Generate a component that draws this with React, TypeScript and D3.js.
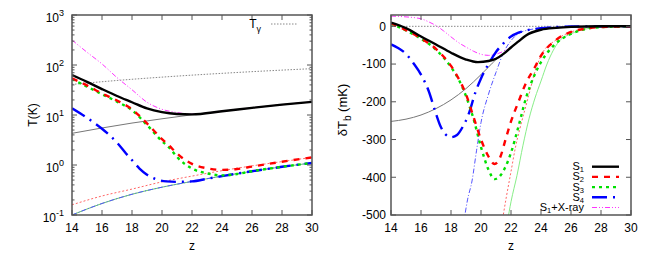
import * as d3 from "d3";

type Pt = [number, number];

const zTicks = [14, 16, 18, 20, 22, 24, 26, 28, 30];
const logTicks = [-1, 0, 1, 2, 3];
const dTbTicks = [-500, -400, -300, -200, -100, 0];

// left panel, T(K)
const tGamma: Pt[] = [[14, 40.9], [16, 46.3], [18, 51.8], [20, 57.2], [22, 62.7], [24, 68.1], [26, 73.6], [28, 79], [30, 84.5]];
const tAdiabatic: Pt[] = [[14, 4.3], [16, 5.5], [18, 6.9], [20, 8.4], [22, 10.1], [24, 11.9], [26, 13.9], [28, 16.1], [30, 18.3]];
const tRedThin: Pt[] = [[14, 0.16], [16, 0.24], [18, 0.33], [20, 0.46], [22, 0.6], [24, 0.77], [26, 0.96], [28, 1.17], [30, 1.42]];
const tBlueThin: Pt[] = [[14, 0.1], [16, 0.17], [18, 0.26], [20, 0.36], [22, 0.47], [24, 0.6], [26, 0.75], [28, 0.92], [30, 1.1]];
const tS1: Pt[] = [[14, 63], [15, 46], [16, 33], [17, 24], [18, 18], [19, 13.5], [20, 11.4], [21, 10.5], [22, 10.3], [24, 11.9], [26, 13.9], [28, 16.1], [30, 18.3]];
const tS2: Pt[] = [[14, 54], [15, 39], [16, 27], [17, 19.5], [18, 13], [19, 6.8], [20, 3.3], [20.5, 2.4], [21, 1.7], [22, 1.05], [23, 0.86], [24, 0.8], [25, 0.83], [26, 0.93], [28, 1.16], [30, 1.42]];
const tS3: Pt[] = [[14, 52], [15, 37], [16, 26], [17, 18.5], [18, 12.5], [19, 6.3], [20, 3.0], [20.5, 2.2], [21, 1.45], [22, 0.85], [23, 0.68], [24, 0.62], [25, 0.66], [26, 0.75], [28, 0.92], [30, 1.1]];
const tS4: Pt[] = [[14, 13.6], [15, 8.8], [16, 5.3], [17, 2.8], [17.6, 1.7], [18, 1.25], [18.5, 0.85], [19, 0.64], [19.6, 0.52], [20.3, 0.47], [21, 0.46], [22, 0.47], [23, 0.53], [24, 0.6], [26, 0.75], [28, 0.92], [30, 1.1]];
const tXray: Pt[] = [[14, 316], [15, 180], [16, 105], [17, 56], [18, 32], [19, 18], [20, 13], [21, 11.2], [22, 10.4], [24, 11.9], [26, 13.9], [28, 16.1], [30, 18.3]];

// right panel, dTb (mK)
const bZero: Pt[] = [[14, 0], [30, 0]];
const bGray: Pt[] = [[14, -252], [15, -246], [16, -235], [17, -218], [18, -195], [19, -165], [20, -128], [20.5, -108], [21, -88], [21.5, -73], [22, -56], [22.5, -40], [23, -24], [24, -9], [25, -4], [26, -1.5], [28, 0], [30, 0]];
const bS1: Pt[] = [[14, 10], [15, -5], [16, -27], [17, -48], [18, -70], [19, -88], [19.8, -95], [20.5, -92], [21, -86], [21.5, -73], [22, -56], [22.5, -40], [23, -24], [24, -9], [25, -4], [26, -1.5], [28, 0], [30, 0]];
const bS2: Pt[] = [[14, 8], [15, -10], [16, -32], [17, -60], [17.5, -80], [18, -105], [18.5, -138], [19, -180], [19.5, -240], [20, -300], [20.5, -345], [20.9, -365], [21.3, -345], [21.6, -305], [22, -252], [22.5, -200], [23, -150], [23.5, -115], [24, -78], [25, -36], [26, -15], [27, -6], [28, -2], [30, 0]];
const bS3: Pt[] = [[14, 7], [15, -11], [16, -33], [17, -62], [18, -108], [18.5, -140], [19, -185], [19.5, -245], [20, -320], [20.5, -380], [20.9, -405], [21.3, -395], [21.6, -375], [22, -335], [22.5, -265], [23, -190], [23.5, -135], [24, -95], [25, -45], [26, -20], [27, -7], [28, -2], [30, 0]];
const bS4: Pt[] = [[14, -48], [14.5, -58], [15, -73], [15.5, -98], [16, -128], [16.5, -170], [17, -232], [17.3, -265], [17.6, -285], [18, -294], [18.4, -288], [18.8, -265], [19.2, -230], [19.6, -178], [20, -138], [20.5, -100], [21, -68], [21.5, -45], [22, -27], [22.5, -17], [23, -11], [24, -5], [25, -2], [26, -0.5], [28, 0], [30, 0]];
const bXray: Pt[] = [[14, 27], [15, 25], [16, 20], [16.5, 12], [17, 2], [17.5, -12], [18, -28], [18.5, -43], [19, -55], [19.5, -66], [20, -74], [20.5, -77], [21, -74], [21.5, -66], [22, -55], [22.5, -40], [23, -24], [24, -9], [25, -4], [26, -1.5], [28, 0], [30, 0]];
const bBlueThin: Pt[] = [[18.85, -520], [19.1, -460], [19.4, -410], [19.7, -330], [20, -255], [20.5, -180], [21, -122], [21.5, -70], [22, -38], [22.5, -19], [23, -11], [24, -5], [25, -2], [26, -0.5], [28, 0], [30, 0]];
const bRedThin: Pt[] = [[21.4, -520], [21.7, -450], [22, -385], [22.3, -320], [22.6, -270], [23, -210], [23.3, -165], [23.6, -120], [24, -78], [25, -36], [26, -15], [27, -6], [28, -2], [30, 0]];
const bGreenThin: Pt[] = [[21.75, -520], [22, -465], [22.4, -395], [22.8, -315], [23.2, -245], [23.6, -190], [24, -145], [24.4, -100], [24.8, -65], [25.2, -40], [26, -20], [27, -7], [28, -2], [30, 0]];

const legendRows = ["1", "2", "3", "4", "X"];

const FONT = "'Liberation Sans', Arial, Helvetica, sans-serif";
const FRAME = "#555";

const L = { x0: 72, x1: 312, y0: 15, y1: 215 };
const R = { x0: 391, x1: 631, y0: 15, y1: 215 };

const xl = d3.scaleLinear().domain([14, 30]).range([L.x0, L.x1]);
const yl = d3.scaleLog().domain([0.1, 1000]).range([L.y1, L.y0]);
const xr = d3.scaleLinear().domain([14, 30]).range([R.x0, R.x1]);
const yr = d3.scaleLinear().domain([-500, 30]).range([R.y1, R.y0]);

const lineL = d3.line<Pt>().x((d) => xl(d[0])).y((d) => yl(d[1])).curve(d3.curveMonotoneX);
const lineR = d3.line<Pt>().x((d) => xr(d[0])).y((d) => yr(d[1])).curve(d3.curveMonotoneX);

const sty = {
  s1: { stroke: "#000", strokeWidth: 2.4 },
  s2: { stroke: "#ff0000", strokeWidth: 2.4, strokeDasharray: "6 6" },
  s3: { stroke: "#00e000", strokeWidth: 2.4, strokeDasharray: "3 4" },
  s4: { stroke: "#0000ff", strokeWidth: 2.4, strokeDasharray: "15 6 2 6" },
  xray: { stroke: "#ff33ff", strokeWidth: 1, strokeDasharray: "5 2 1 2 1 2" },
  gray: { stroke: "#777", strokeWidth: 1 },
  tg: { stroke: "#888", strokeWidth: 1, strokeDasharray: "1.5 1.5" },
  redThin: { stroke: "#ff6666", strokeWidth: 1, strokeDasharray: "2 2" },
  blueThin: { stroke: "#5555ff", strokeWidth: 1, strokeDasharray: "5 2 1 2" },
  greenThin: { stroke: "#88ee88", strokeWidth: 1 },
  greenThinL: { stroke: "#66cc66", strokeWidth: 1 },
};

const legendStyle: Record<string, any> = { "1": sty.s1, "2": sty.s2, "3": sty.s3, "4": sty.s4, X: sty.xray };

export default function App() {
  const minorL: number[] = [];
  for (let e = -1; e < 3; e++) for (let m = 2; m < 10; m++) minorL.push(m * Math.pow(10, e));

  return (
    <svg width={648} height={264} style={{ display: "block", position: "absolute", left: 0, top: 0 }} fontFamily={FONT}>
      <rect width={648} height={264} fill="#fff" />
      <defs>
        <clipPath id="clipL"><rect x={L.x0} y={L.y0} width={L.x1 - L.x0} height={L.y1 - L.y0} /></clipPath>
        <clipPath id="clipR"><rect x={R.x0} y={R.y0} width={R.x1 - R.x0} height={R.y1 - R.y0} /></clipPath>
      </defs>

      {/* left panel */}
      <g clipPath="url(#clipL)" fill="none">
        <path d={lineL(tGamma)!} {...sty.tg} />
        <path d={lineL(tAdiabatic)!} {...sty.gray} />
        <path d={lineL(tRedThin)!} {...sty.redThin} />
        <path d={lineL(tBlueThin)!} {...sty.greenThinL} />
        <path d={lineL(tBlueThin)!} {...sty.blueThin} />
        <path d={lineL(tXray)!} {...sty.xray} />
        <path d={lineL(tS4)!} {...sty.s4} />
        <path d={lineL(tS3)!} {...sty.s3} />
        <path d={lineL(tS2)!} {...sty.s2} />
        <path d={lineL(tS1)!} {...sty.s1} />
      </g>
      <rect x={L.x0} y={L.y0} width={L.x1 - L.x0} height={L.y1 - L.y0} fill="none" stroke={FRAME} strokeWidth={1.5} />
      {zTicks.map((z) => (
        <g key={"lx" + z}>
          <line x1={xl(z)} x2={xl(z)} y1={L.y1} y2={L.y1 - 5} stroke={FRAME} />
          <line x1={xl(z)} x2={xl(z)} y1={L.y0} y2={L.y0 + 5} stroke={FRAME} />
          <text x={xl(z)} y={232} fontSize={12} textAnchor="middle">{z}</text>
        </g>
      ))}
      {logTicks.map((e) => (
        <g key={"ly" + e}>
          <line x1={L.x0} x2={L.x0 + 5} y1={yl(Math.pow(10, e))} y2={yl(Math.pow(10, e))} stroke={FRAME} />
          <line x1={L.x1} x2={L.x1 - 5} y1={yl(Math.pow(10, e))} y2={yl(Math.pow(10, e))} stroke={FRAME} />
          <text x={64} y={yl(Math.pow(10, e)) + 6.5} fontSize={12} textAnchor="end">
            10<tspan dy={-6} fontSize={9}>{e}</tspan>
          </text>
        </g>
      ))}
      {minorL.map((v) => (
        <g key={"lm" + v}>
          <line x1={L.x0} x2={L.x0 + 2.5} y1={yl(v)} y2={yl(v)} stroke={FRAME} />
          <line x1={L.x1} x2={L.x1 - 2.5} y1={yl(v)} y2={yl(v)} stroke={FRAME} />
        </g>
      ))}
      <text transform={`translate(37,${(L.y0 + L.y1) / 2}) rotate(-90)`} fontSize={12} textAnchor="middle">T(K)</text>
      <text x={(L.x0 + L.x1) / 2} y={250} fontSize={12} textAnchor="middle">z</text>
      <text x={261} y={28} fontSize={12} textAnchor="end">
        T<tspan dy={3.5} fontSize={9}>γ</tspan>
      </text>
      <line x1={271} x2={298} y1={24} y2={24} fill="none" {...sty.tg} />

      {/* right panel */}
      <g clipPath="url(#clipR)" fill="none">
        <path d={lineR(bZero)!} {...sty.tg} />
        <path d={lineR(bGray)!} {...sty.gray} />
        <path d={lineR(bRedThin)!} {...sty.redThin} />
        <path d={lineR(bGreenThin)!} {...sty.greenThin} />
        <path d={lineR(bBlueThin)!} {...sty.blueThin} />
        <path d={lineR(bXray)!} {...sty.xray} />
        <path d={lineR(bS4)!} {...sty.s4} />
        <path d={lineR(bS3)!} {...sty.s3} />
        <path d={lineR(bS2)!} {...sty.s2} />
        <path d={lineR(bS1)!} {...sty.s1} />
      </g>
      <rect x={R.x0} y={R.y0} width={R.x1 - R.x0} height={R.y1 - R.y0} fill="none" stroke={FRAME} strokeWidth={1.5} />
      {zTicks.map((z) => (
        <g key={"rx" + z}>
          <line x1={xr(z)} x2={xr(z)} y1={R.y1} y2={R.y1 - 5} stroke={FRAME} />
          <line x1={xr(z)} x2={xr(z)} y1={R.y0} y2={R.y0 + 5} stroke={FRAME} />
          <text x={xr(z)} y={232} fontSize={12} textAnchor="middle">{z}</text>
        </g>
      ))}
      {dTbTicks.map((v) => (
        <g key={"ry" + v}>
          <line x1={R.x0} x2={R.x0 + 5} y1={yr(v)} y2={yr(v)} stroke={FRAME} />
          <line x1={R.x1} x2={R.x1 - 5} y1={yr(v)} y2={yr(v)} stroke={FRAME} />
          <text x={386} y={yr(v) + 4.3} fontSize={12} textAnchor="end">{v}</text>
        </g>
      ))}
      <text transform={`translate(347,110) rotate(-90)`} fontSize={13} textAnchor="middle">
        δT<tspan dy={3.5} fontSize={10}>b</tspan><tspan dy={-3.5}> (mK)</tspan>
      </text>
      <text x={(R.x0 + R.x1) / 2} y={250} fontSize={12} textAnchor="middle">z</text>
      {legendRows.map((k, i) => {
        const y = 166.7 + i * 10.2;
        return (
          <g key={"lg" + k}>
            <text x={584} y={y + 3.5} fontSize={11} textAnchor="end">
              S<tspan dy={2} fontSize={7.5}>{k === "X" ? "1" : k}</tspan>
              {k === "X" ? <tspan dy={-2}>+X-ray</tspan> : null}
            </text>
            <line x1={592} x2={619} y1={y} y2={y} fill="none" {...legendStyle[k]} />
          </g>
        );
      })}
    </svg>
  );
}
